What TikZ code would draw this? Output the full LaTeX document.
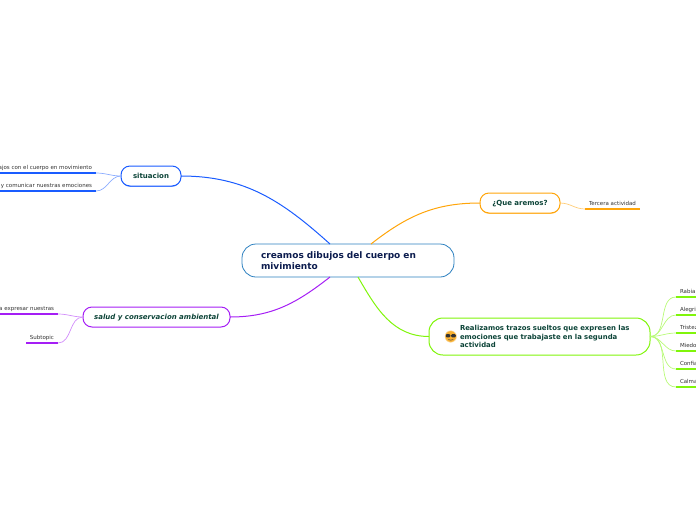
\documentclass[tikz,border=0pt]{standalone}
\usepackage{fontspec}
\setmainfont{DejaVu Sans}
\usepackage{xcolor}
\usetikzlibrary{positioning,calc,shadows}
\definecolor{maintext}{RGB}{12,28,78}
\definecolor{maindraw}{RGB}{44,128,192}
\definecolor{topictext}{RGB}{12,68,56}
\definecolor{leaftext}{RGB}{50,50,50}
\definecolor{situblue}{RGB}{26,92,255}
\definecolor{aremos}{RGB}{255,165,10}
\definecolor{salud}{RGB}{165,30,245}
\definecolor{trazos}{RGB}{128,245,10}
\definecolor{face}{RGB}{248,176,48}

\begin{document}
\begin{tikzpicture}[
    x=1pt, y=1pt,
    mainbox/.style={rectangle, draw=maindraw, line width=0.8pt, outer sep=0pt, rounded corners=14pt, minimum width=212pt, minimum height=33pt, text width=174pt, inner xsep=19pt, align=left, text=maintext, font=\fontsize{9}{11.4}\selectfont\bfseries},
    topic/.style={rectangle, line width=1pt, outer sep=0pt, rounded corners=9pt, minimum height=20pt, inner xsep=0pt, inner ysep=0pt, text height=6pt, text depth=1pt, align=center, text=topictext, font=\fontsize{7}{8.5}\selectfont\bfseries},
    bigtopic/.style={rectangle, line width=1pt, outer sep=0pt, rounded corners=14pt, minimum width=221pt, minimum height=37pt, inner xsep=19pt, text width=183pt, align=left, text=topictext, font=\fontsize{6.9}{8.5}\selectfont\bfseries},
    leaf/.style={rectangle, outer sep=0pt, inner xsep=4pt, inner ysep=0pt, minimum height=12pt, text height=5pt, text depth=0.6pt, text=leaftext, font=\fontsize{5.5}{6.5}\selectfont},
    link/.style={line width=1pt},
    twig/.style={line width=0.7pt},
    under/.style={line width=1.2pt},
]
\useasboundingbox (0,0) rectangle (696,-520);

% === CENTRE ===
\node[mainbox, fill=white] (main) at (348,-260.5) {creamos dibujos del cuerpo en\\mivimiento};
\coordinate[above=0pt of main, xshift=-18pt] (mainNW);
\coordinate[above=0pt of main, xshift=23pt] (mainNE);
\coordinate[below=0pt of main, xshift=-18pt] (mainSW);
\coordinate[below=0pt of main, xshift=10pt] (mainSE);

% === TOPICS ===
\node[topic, draw=situblue, fill=white, minimum width=60pt, above left=58pt and 61pt of main, drop shadow={shadow xshift=0pt, shadow yshift=-0.8pt, fill=situblue!60, opacity=1}] (situacion) {situacion};
\node[topic, draw=salud, fill=white, minimum width=147pt, below left=30pt and 12pt of main, font=\fontsize{7}{8.5}\selectfont\bfseries\itshape] (saludbox) {salud y conservacion ambiental};
\node[topic, draw=aremos, fill=white, minimum width=80pt, above right=31pt and 26pt of main, drop shadow={shadow xshift=0pt, shadow yshift=-0.8pt, fill=aremos!60, opacity=1}] (que) {¿Que aremos?};
\node[bigtopic, draw=trazos, fill=white, below right=41pt and -25pt of main] (trazosbox) {\hspace*{12pt}Realizamos trazos sueltos que expresen las\\\hspace*{12pt}emociones que trabajaste en la segunda\\\hspace*{12pt}actividad};

% === EMOJI ===
\node[circle, fill=face, draw=face!45, line width=0.5pt, minimum size=11.5pt, inner sep=0pt, outer sep=0pt, right=16pt of trazosbox.west] (emoji) {};
\fill[black!80, rounded corners=1pt] ($(emoji.center)+(-5,2.4)$) rectangle ($(emoji.center)+(-0.4,-0.8)$);
\fill[black!80, rounded corners=1pt] ($(emoji.center)+(0.4,2.4)$) rectangle ($(emoji.center)+(5,-0.8)$);
\draw[black!70, line width=0.5pt] ($(emoji.center)+(-2.5,-3)$) to[bend right=25] ($(emoji.center)+(2.5,-3)$);

% === LEAVES ===
\node[leaf, left=25pt of situacion, yshift=9pt] (sit1) {ajos con el cuerpo en movimiento};
\node[leaf, left=25pt of situacion, yshift=-9pt] (sit2) {y comunicar nuestras emociones};
\node[leaf, left=25pt of saludbox, yshift=9pt] (sal1) {a expresar nuestras};
\node[leaf, left=25pt of saludbox, yshift=-20pt] (sal2) {Subtopic};
\node[leaf, right=25pt of que] (que1) {Tercera actividad};
\foreach \nm/\txt/\shift in {raA/Rabia/45.5, raB/Alegri/27.5, raC/Tristez/9.5, raD/Miedo/-8.5, raE/Confia/-26.5, raF/Calma/-44.5}{
    \node[leaf, right=26pt of trazosbox, yshift=\shift pt, text width=16pt, align=left] (\nm) {\txt};
}

% === LINKS ===
\draw[link, draw=situblue] (situacion.east) to[out=0, in=138] (mainNW);
\draw[link, draw=aremos] (mainNE) to[out=38, in=180] (que.west);
\draw[link, draw=salud] (mainSW) to[out=218, in=0] (saludbox.east);
\draw[link, draw=trazos] (mainSE) to[out=-60, in=180] (trazosbox.west);

% === TWIGS ===
\foreach \lf in {sit1,sit2}{
    \draw[under, draw=situblue] (\lf.south east) -- (\lf.south west);
    \draw[twig, draw=situblue!50] (situacion.west) to[out=180, in=0] (\lf.south east);
}
\foreach \lf in {sal1,sal2}{
    \draw[under, draw=salud] (\lf.south east) -- (\lf.south west);
    \draw[twig, draw=salud!50] (saludbox.west) to[out=180, in=0] (\lf.south east);
}
\draw[under, draw=aremos] (que1.south west) -- (que1.south east);
\draw[twig, draw=aremos!55] (que.east) to[out=0, in=180] (que1.south west);
\foreach \lf in {raA,raB,raC,raD,raE,raF}{
    \draw[under, draw=trazos] (\lf.south west) -- (\lf.south east);
    \draw[twig, draw=trazos!55] (trazosbox.east) to[out=0, in=180] (\lf.south west);
}

\end{tikzpicture}
\end{document}
